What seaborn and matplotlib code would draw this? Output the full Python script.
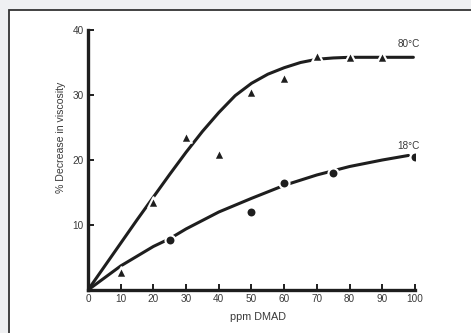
import pandas as pd
import numpy as np
import matplotlib
matplotlib.use('Agg')
import matplotlib.pyplot as plt
import seaborn as sns
from matplotlib.patches import Rectangle

ppm_80 = [10, 20, 30, 40, 50, 60, 70, 80, 90]
dec_80 = [2.8, 13.6, 23.6, 20.9, 30.4, 32.6, 36.0, 35.8, 35.8]
ppm_18 = [25, 50, 60, 75, 100]
dec_18 = [7.7, 12.0, 16.4, 18.0, 20.5]

# hand drawn trend curves
curve_x_80 = [0, 5, 10, 15, 20, 25, 30, 35, 40, 45, 50, 55, 60, 65, 70, 75, 80, 85, 90, 95, 99.5]
curve_y_80 = [0, 3.6, 7.2, 10.8, 14.3, 17.8, 21.2, 24.4, 27.3, 29.9, 31.8, 33.2, 34.2, 35.0, 35.5, 35.7, 35.8, 35.8, 35.8, 35.8, 35.8]
curve_x_18 = [0, 10, 20, 25, 30, 40, 50, 60, 70, 80, 90, 98]
curve_y_18 = [0, 3.7, 6.7, 7.9, 9.4, 12.0, 14.1, 16.1, 17.7, 19.0, 20.0, 20.7]

labels = ['80°C', '18°C']
label_pos = [(98.2, 37.8), (97.9, 22.2)]

sns.set_theme(style="ticks")
plt.rcParams['font.family'] = ['Liberation Sans', 'DejaVu Sans']

ink = '#1e1e1e'
txt = '#3a3a3a'

fig = plt.figure(figsize=(4.71, 3.33), dpi=100, facecolor='#eff0f2')
# white panel with dark frame, kept behind the axes
panel = Rectangle((9 / 471, -0.1), 1.2, 1.1 - 10.5 / 333, transform=fig.transFigure,
                  facecolor='white', edgecolor='#333333', linewidth=1.3, zorder=-5)
fig.add_artist(panel)
ax = fig.add_axes([88 / 471, 1 - 290 / 333, 327 / 471, 260 / 333])
ax.set_facecolor('none')

sns.lineplot(x=curve_x_80, y=curve_y_80, ax=ax, color=ink, linewidth=2.2, sort=False, zorder=2)
sns.lineplot(x=curve_x_18, y=curve_y_18, ax=ax, color=ink, linewidth=2.2, sort=False, zorder=2)
sns.scatterplot(x=ppm_80, y=dec_80, ax=ax, marker='^', s=58, color=ink, edgecolor='white', linewidth=1.5, zorder=3)
sns.scatterplot(x=ppm_18, y=dec_18, ax=ax, marker='o', s=52, color=ink, edgecolor='white', linewidth=1.5, zorder=3)

for lab, (lx, ly) in zip(labels, label_pos):
    ax.text(lx, ly, lab, ha='center', va='center', fontsize=7.2, color=txt)

ax.set_xlim(0, 100)
ax.set_ylim(0, 40)
ax.set_xticks(range(0, 101, 10))
ax.set_yticks([10, 20, 30, 40])
sns.despine(ax=ax)
for s in ['left', 'bottom']:
    ax.spines[s].set_linewidth(2.4)
    ax.spines[s].set_color(ink)
ax.tick_params(direction='in', length=4.5, width=1.4, color=ink, labelsize=7.2, labelcolor=txt, pad=3)
ax.set_xlabel('ppm DMAD', fontsize=7.8, color=txt)
ax.set_ylabel('% Decrease in viscosity', fontsize=7.6, color=txt)
ax.xaxis.set_label_coords(0.52, -0.086)
ax.yaxis.set_label_coords(-0.068, 0.587)

fig.savefig('out.png', dpi=100, facecolor=fig.get_facecolor())
